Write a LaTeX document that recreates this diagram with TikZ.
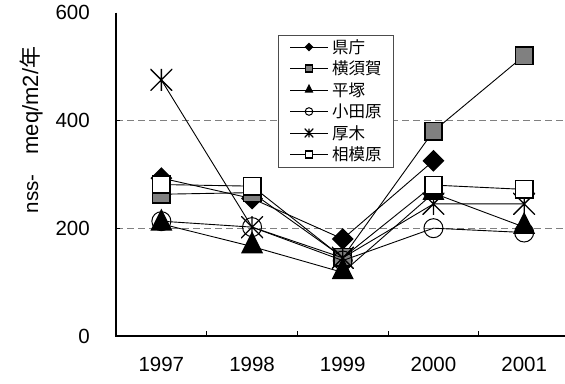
\documentclass[tikz,border=0pt]{standalone}
\usepackage{fontspec}
\setmainfont{Liberation Sans}
\newfontfamily\jpfont{Noto Sans CJK JP}
\usetikzlibrary{shapes.geometric, positioning, calc}
\definecolor{xlgray}{RGB}{128,128,128}
\tikzset{
  axisline/.style={line width=2.4pt},
  gridline/.style={xlgray, line width=1pt, dash pattern=on 7pt off 4pt},
  tickline/.style={line width=0.8pt},
  series/.style={line width=0.9pt},
  ticklabel/.style={font=\fontsize{20.5}{24}\selectfont, inner sep=0pt},
  legtext/.style={font=\fontsize{16.5}{19}\selectfont\jpfont, inner sep=0pt, anchor=west},
  mdiam/.style={diamond, fill=black, minimum size=22pt, inner sep=0pt},
  msqgray/.style={rectangle, draw=black, line width=1.6pt, fill=xlgray, minimum size=17.5pt, inner sep=0pt},
  mtri/.style={isosceles triangle, isosceles triangle stretches, shape border rotate=90, fill=black, minimum width=22pt, minimum height=22pt, inner sep=0pt},
  mcirc/.style={circle, draw=black, line width=1pt, minimum size=19pt, inner sep=0pt},
  mast/.style={rectangle, minimum size=22pt, inner sep=0pt, path picture={
      \draw[line width=1.3pt] (path picture bounding box.south west) -- (path picture bounding box.north east)
        (path picture bounding box.north west) -- (path picture bounding box.south east)
        (path picture bounding box.south) -- (path picture bounding box.north);}},
  msqwhite/.style={rectangle, draw=black, line width=1.6pt, fill=white, minimum size=17.5pt, inner sep=0pt},
  legendbox/.style={rectangle, draw=black!70, line width=0.9pt, minimum width=115pt, minimum height=132pt, inner sep=0pt},
}

\begin{document}
\begin{tikzpicture}[x=1pt,y=1pt]
\useasboundingbox (0,0) rectangle (565,383);

\begin{scope}[shift={(116,47)}, x=90.7pt, y=0.539pt]
% grid, axes and ticks
\foreach \v in {200,400} \draw[gridline] (0,\v) -- (4.95,\v);
\foreach \k in {1,...,4} \draw[tickline] (\k,0) -- ++(0,5pt);
\foreach \v in {200,400} \draw[tickline] (0,\v) -- ++(4pt,0);
\draw[axisline] (0,600) -- (0,0) -- (4.95,0);
\foreach \v in {0,200,400,600} \node[ticklabel, anchor=east] (ylab\v) at ([xshift=-26pt]0,\v) {\v};
\foreach \yr [count=\i] in {1997,1998,1999,2000,2001} \node[ticklabel] (xlab\yr) at ([yshift=-28pt]\i-0.5,0) {\yr};

% 県庁
\foreach \v [count=\i] in {293,255,180,325} \coordinate (ken\i) at (\i-0.5,\v);
\draw[series] (ken1) -- (ken2) -- (ken3) -- (ken4);
\foreach \i in {1,...,4} \node[mdiam] (kenm\i) at (ken\i) {};
% 横須賀
\foreach \v [count=\i] in {263,266,146,380,520} \coordinate (yok\i) at (\i-0.5,\v);
\draw[series] (yok1) -- (yok2) -- (yok3) -- (yok4) -- (yok5);
\foreach \i in {1,...,5} \node[msqgray] (yokm\i) at (yok\i) {};
% 平塚
\foreach \v [count=\i] in {208,166,118,265,202} \coordinate (hir\i) at (\i-0.5,\v);
\draw[series] (hir1) -- (hir2) -- (hir3) -- (hir4) -- (hir5);
\foreach \i in {1,...,5} \node[mtri] (hirm\i) at (hir\i) {};
% 小田原
\foreach \v [count=\i] in {213,202,140,200,192} \coordinate (oda\i) at (\i-0.5,\v);
\draw[series] (oda1) -- (oda2) -- (oda3) -- (oda4) -- (oda5);
\foreach \i in {1,...,5} \node[mcirc] (odam\i) at (oda\i) {};
% 厚木
\foreach \v [count=\i] in {475,202,145,245,245} \coordinate (atu\i) at (\i-0.5,\v);
\draw[series] (atu1) -- (atu2) -- (atu3) -- (atu4) -- (atu5);
\foreach \i in {1,...,5} \node[mast] (atum\i) at (atu\i) {};
% 相模原 (1999 marker hidden in the original)
\foreach \v [count=\i] in {281,278,145,280,272} \coordinate (sag\i) at (\i-0.5,\v);
\draw[series] (sag1) -- (sag2) -- (sag3) -- (sag4) -- (sag5);
\foreach \i in {1,2,4,5} \node[msqwhite] (sagm\i) at (sag\i) {};
\end{scope}

% y title
\node[inner sep=0pt, rotate=90] (ytitle) at (31,253) {{\fontsize{20.5}{24}\selectfont nss-}\hspace{20pt}{\fontsize{22}{26}\selectfont meq/m2/{\jpfont 年}}};

% legend
\node[legendbox, fill=white, anchor=north west] (legend) at (278,348) {};
\foreach \name/\mk [count=\r] in {県庁/mdiam, 横須賀/msqgray, 平塚/mtri, 小田原/mcirc, 厚木/mast, 相模原/msqwhite} {
  \coordinate (la\r) at (290,357.5-21.5*\r);
  \coordinate (lb\r) at (328,357.5-21.5*\r);
  \draw[series] (la\r) -- (lb\r);
  \node[\mk, scale=0.4] (lm\r) at ($(la\r)!0.5!(lb\r)$) {};
  \node[legtext] (lt\r) at (332,357.5-21.5*\r) {\name};
}
\end{tikzpicture}
\end{document}
